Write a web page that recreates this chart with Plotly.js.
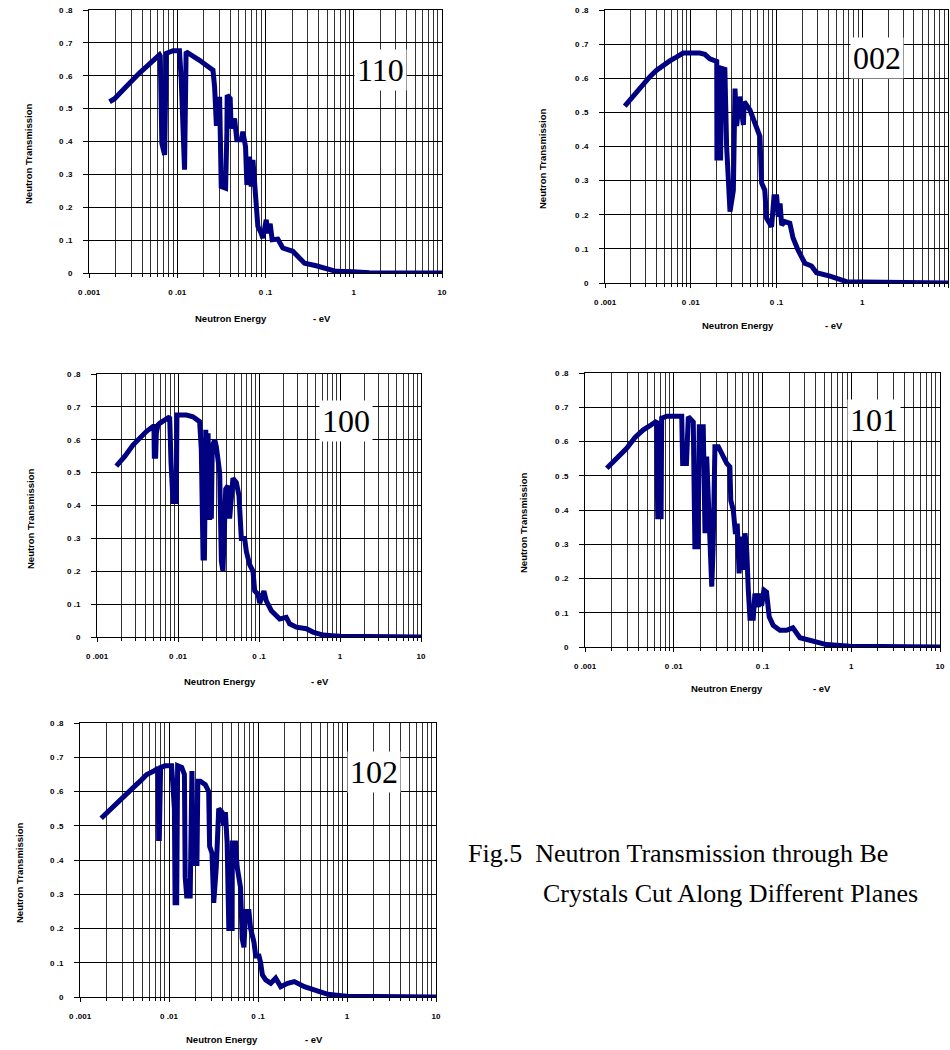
<!DOCTYPE html>
<html>
<head>
<meta charset="utf-8">
<script src="https://cdn.plot.ly/plotly-3.0.1.min.js"></script>
<style>html,body{margin:0;padding:0;background:#fff;}#chart{width:950px;height:1050px;}</style>
</head>
<body>
<div id="chart"></div>
<script>
// ---------- data ----------
const panelLabels = ['110', '002', '100', '101', '102'];

const energy110 = [0.00171,0.00195,0.00222,0.00265,0.00315,0.00375,0.00446,0.00508,0.00578,0.0063,0.00642,0.00669,0.0072,0.0075,0.00893,0.0106,0.0111,0.0121,0.0126,0.015,0.0179,0.0213,0.0254,0.0265,0.0277,0.0297,0.0302,0.0315,0.0353,0.0365,0.0368,0.0398,0.0408,0.0446,0.0473,0.053,0.0554,0.0594,0.0615,0.0659,0.0689,0.072,0.075,0.077,0.0819,0.0893,0.0933,0.102,0.106,0.113,0.119,0.138,0.157,0.204,0.243,0.277,0.375,0.508,0.631,0.975,1.5,10.5];
const trans110  = [0.521,0.53,0.546,0.569,0.592,0.609,0.627,0.642,0.657,0.664,0.66,0.394,0.359,0.668,0.676,0.676,0.587,0.314,0.673,0.662,0.647,0.632,0.617,0.566,0.455,0.455,0.536,0.263,0.258,0.425,0.541,0.531,0.44,0.47,0.405,0.405,0.43,0.384,0.268,0.354,0.263,0.344,0.263,0.202,0.142,0.121,0.106,0.162,0.121,0.15,0.101,0.103,0.076,0.066,0.046,0.03,0.022,0.012,0.005,0.004,0.001,0];

const energy002 = [0.0017,0.00194,0.00232,0.00278,0.00332,0.00397,0.00475,0.00569,0.0068,0.00814,0.0127,0.0146,0.0167,0.0201,0.0202,0.0223,0.0229,0.025,0.0262,0.0287,0.0314,0.0328,0.0343,0.0372,0.0411,0.042,0.049,0.0587,0.0641,0.067,0.073,0.0766,0.0876,0.0935,0.1005,0.105,0.11,0.115,0.125,0.143,0.156,0.178,0.2,0.214,0.256,0.293,0.42,0.548,0.656,1.0,10.5];
const trans002  = [0.518,0.535,0.56,0.584,0.604,0.623,0.638,0.651,0.662,0.674,0.674,0.67,0.657,0.649,0.366,0.366,0.629,0.626,0.4,0.209,0.272,0.57,0.46,0.546,0.463,0.531,0.507,0.448,0.429,0.293,0.272,0.19,0.165,0.253,0.253,0.194,0.233,0.17,0.18,0.175,0.132,0.097,0.075,0.058,0.05,0.03,0.02,0.01,0.004,0.003,0];

const energy100 = [0.00173,0.0022,0.00278,0.00337,0.00406,0.00491,0.00505,0.0051,0.0053,0.0054,0.00566,0.00594,0.00753,0.00789,0.0082,0.00867,0.00953,0.0097,0.0127,0.0153,0.0185,0.0194,0.0204,0.0212,0.022,0.0225,0.023,0.0235,0.0246,0.0255,0.0258,0.0265,0.0284,0.0297,0.0327,0.0343,0.0359,0.0388,0.0414,0.0434,0.0477,0.0525,0.0566,0.0605,0.0665,0.0698,0.0767,0.0843,0.0885,0.0973,0.102,0.115,0.123,0.142,0.156,0.18,0.217,0.239,0.289,0.384,0.464,0.617,0.8,1.0,10.5];
const trans100  = [0.52,0.549,0.584,0.605,0.625,0.64,0.64,0.55,0.55,0.62,0.645,0.65,0.665,0.67,0.53,0.412,0.412,0.675,0.675,0.67,0.655,0.57,0.24,0.24,0.63,0.4,0.6,0.62,0.356,0.56,0.36,0.58,0.6,0.58,0.5,0.23,0.2,0.45,0.46,0.36,0.483,0.47,0.43,0.3,0.3,0.26,0.22,0.2,0.14,0.13,0.103,0.14,0.11,0.08,0.07,0.055,0.06,0.04,0.03,0.025,0.015,0.006,0.004,0.002,0];

const energy101 = [0.00176,0.00227,0.00295,0.00366,0.00454,0.0054,0.00615,0.00643,0.0066,0.0072,0.00731,0.00834,0.0123,0.0126,0.0139,0.0146,0.0166,0.0173,0.0187,0.0194,0.0215,0.0225,0.0235,0.024,0.0268,0.0278,0.0291,0.0318,0.0346,0.0395,0.0429,0.0439,0.0469,0.0496,0.0519,0.0545,0.0583,0.0608,0.0635,0.0664,0.0692,0.0722,0.0787,0.0821,0.0896,0.0935,0.0977,0.1036,0.111,0.119,0.132,0.157,0.186,0.22,0.264,0.372,0.527,0.97,10.5];
const trans101  = [0.522,0.552,0.58,0.612,0.634,0.646,0.655,0.66,0.38,0.38,0.668,0.674,0.674,0.536,0.536,0.672,0.657,0.293,0.293,0.643,0.643,0.332,0.556,0.478,0.176,0.293,0.585,0.585,0.565,0.536,0.526,0.428,0.399,0.33,0.36,0.215,0.322,0.225,0.332,0.283,0.166,0.084,0.084,0.156,0.117,0.156,0.12,0.166,0.16,0.088,0.063,0.049,0.049,0.056,0.027,0.016,0.007,0.002,0];

const energy102 = [0.00173,0.00234,0.00304,0.00361,0.0043,0.00491,0.00558,0.00665,0.00757,0.00765,0.00778,0.00805,0.00902,0.0107,0.0112,0.0115,0.0117,0.0122,0.0125,0.0139,0.0149,0.0152,0.0158,0.0173,0.0181,0.0188,0.0206,0.0211,0.0225,0.0256,0.0279,0.0286,0.0304,0.0318,0.034,0.0362,0.0394,0.0412,0.043,0.045,0.047,0.0512,0.0515,0.0559,0.0583,0.0636,0.0665,0.0695,0.0725,0.0791,0.0826,0.0901,0.0942,0.1026,0.107,0.112,0.122,0.139,0.158,0.18,0.215,0.256,0.332,0.431,0.609,0.863,1.0,10.5];
const trans102  = [0.522,0.556,0.585,0.605,0.62,0.634,0.649,0.659,0.668,0.463,0.463,0.67,0.675,0.675,0.6,0.55,0.275,0.275,0.675,0.67,0.65,0.35,0.295,0.295,0.66,0.39,0.39,0.63,0.63,0.62,0.6,0.44,0.42,0.275,0.38,0.55,0.54,0.5,0.54,0.45,0.2,0.2,0.45,0.45,0.38,0.32,0.17,0.145,0.25,0.25,0.2,0.16,0.12,0.12,0.1,0.065,0.05,0.04,0.055,0.03,0.04,0.045,0.03,0.02,0.008,0.004,0.002,0];

const xTickVals  = [0.001, 0.01, 0.1, 1, 10];
const xTickText  = ['0 .001', '0 .01', '0 .1', '1', '10'];
const yTickVals  = [0, 0.1, 0.2, 0.3, 0.4, 0.5, 0.6, 0.7, 0.8];
const yTickText  = ['0', '0 .1', '0 .2', '0 .3', '0 .4', '0 .5', '0 .6', '0 .7', '0 .8'];

const yTitleText = 'Neutron Transmission';
const xTitleMain = 'Neutron Energy';
const xTitleUnit = '- eV';
const captionLine1 = 'Fig.5  Neutron Transmission through Be';
const captionLine2 = 'Crystals Cut Along Different Planes';

// ---------- layout geometry (pixels) ----------
const W = 950, H = 1050;
const series = [[energy110, trans110], [energy002, trans002], [energy100, trans100], [energy101, trans101], [energy102, trans102]];
const boxes = [
  {x0: 89,  x1: 442, y0: 10,  y1: 273, yt: [28, 154],  xt: [231, 318], eu: [322, 318], lab: [380, 70]},
  {x0: 605, x1: 948, y0: 10,  y1: 283, yt: [542, 159], xt: [738, 325], eu: [834, 325], lab: [877, 58]},
  {x0: 97,  x1: 421, y0: 374, y1: 637, yt: [31, 519],  xt: [220, 681], eu: [320, 681], lab: [346, 421]},
  {x0: 585, x1: 940, y0: 373, y1: 647, yt: [523, 523], xt: [727, 688], eu: [822, 688], lab: [874, 420]},
  {x0: 80,  x1: 436, y0: 723, y1: 997, yt: [19, 873],  xt: [222, 1039], eu: [314, 1039], lab: [374, 772]}
];

const minorVals = [];
[0.001, 0.01, 0.1, 1].forEach(d => { for (let k = 2; k <= 9; k++) minorVals.push(+(d * k).toPrecision(3)); });

const tickFont = {family: 'Liberation Sans, Arial, sans-serif', size: 8, color: '#000', weight: 'bold'};
const titleFont = {family: 'Liberation Sans, Arial, sans-serif', size: 9.5, color: '#000', weight: 'bold'};
const serif = 'Liberation Serif, Times New Roman, serif';

const data = [];
const layout = {
  width: W, height: H,
  margin: {l: 0, r: 0, t: 0, b: 0},
  paper_bgcolor: '#fff', plot_bgcolor: '#fff',
  showlegend: false,
  annotations: []
};

boxes.forEach((b, i) => {
  const n = i === 0 ? '' : String(i + 1);
  data.push({
    x: series[i][0], y: series[i][1],
    xaxis: 'x' + n, yaxis: 'y' + n,
    type: 'scatter', mode: 'lines',
    line: {color: '#000080', width: 5},
    hoverinfo: 'skip'
  });
  layout['xaxis' + n] = {
    type: 'log', range: [-3, 1],
    domain: [b.x0 / W, b.x1 / W],
    anchor: 'y' + n,
    tickmode: 'array', tickvals: xTickVals, ticktext: xTickText,
    ticks: 'outside', ticklen: 4, tickcolor: '#000', tickwidth: 1,
    ticklabelstandoff: 7,
    tickfont: tickFont,
    showgrid: true, gridcolor: '#000', gridwidth: 1,
    minor: {tickmode: 'array', tickvals: minorVals, ticks: 'outside', ticklen: 3, tickcolor: '#000',
            showgrid: true, gridcolor: '#333', gridwidth: 1},
    showline: true, linecolor: '#000', linewidth: 1, mirror: true,
    zeroline: false, fixedrange: true
  };
  layout['yaxis' + n] = {
    range: [0, 0.8],
    domain: [1 - b.y1 / H, 1 - b.y0 / H],
    anchor: 'x' + n,
    tickmode: 'array', tickvals: yTickVals, ticktext: yTickText,
    ticks: 'outside', ticklen: 5, tickcolor: '#000', tickwidth: 1,
    ticklabelstandoff: 9,
    tickfont: tickFont,
    showgrid: true, gridcolor: '#000', gridwidth: 1,
    showline: true, linecolor: '#000', linewidth: 1, mirror: true,
    zeroline: false, fixedrange: true
  };
  layout.annotations.push(
    {text: yTitleText, textangle: -90, xref: 'paper', yref: 'paper', x: b.yt[0] / W, y: 1 - b.yt[1] / H,
     xanchor: 'center', yanchor: 'middle', showarrow: false, font: titleFont},
    {text: xTitleMain, xref: 'paper', yref: 'paper', x: b.xt[0] / W, y: 1 - b.xt[1] / H,
     xanchor: 'center', yanchor: 'middle', showarrow: false, font: titleFont},
    {text: xTitleUnit, xref: 'paper', yref: 'paper', x: b.eu[0] / W, y: 1 - b.eu[1] / H,
     xanchor: 'center', yanchor: 'middle', showarrow: false, font: titleFont},
    {text: panelLabels[i], xref: 'paper', yref: 'paper', x: b.lab[0] / W, y: 1 - b.lab[1] / H,
     xanchor: 'center', yanchor: 'middle', showarrow: false, bgcolor: '#fff', borderpad: 2,
     font: {family: serif, size: 32, color: '#000'}}
  );
});

layout.annotations.push(
  {text: captionLine1, xref: 'paper', yref: 'paper', x: 466 / W, y: 1 - 853 / H,
   xanchor: 'left', yanchor: 'middle', showarrow: false, font: {family: serif, size: 26, color: '#000'}},
  {text: captionLine2, xref: 'paper', yref: 'paper', x: 541 / W, y: 1 - 893 / H,
   xanchor: 'left', yanchor: 'middle', showarrow: false, font: {family: serif, size: 26, color: '#000'}}
);

Plotly.newPlot('chart', data, layout, {staticPlot: true, displayModeBar: false});
</script>
</body>
</html>
